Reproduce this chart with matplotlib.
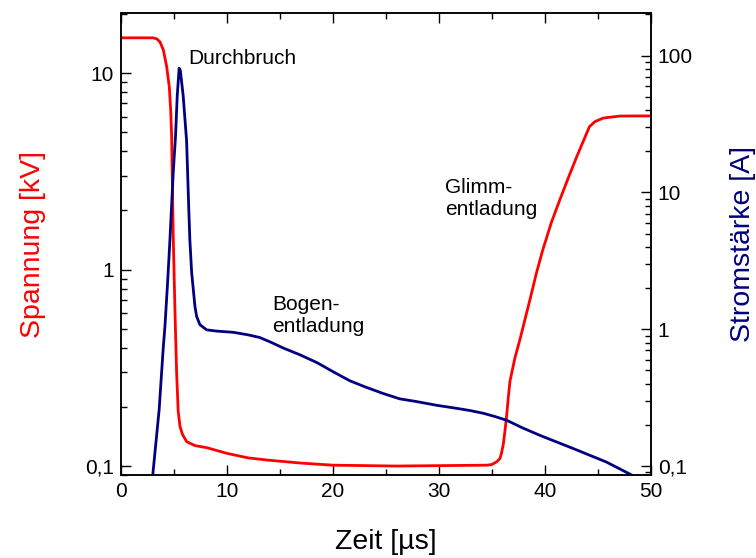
import matplotlib
matplotlib.use('Agg')
import matplotlib.pyplot as plt
from matplotlib.ticker import FixedLocator, FuncFormatter, LogLocator, NullFormatter, MultipleLocator

plt.rcParams['font.family'] = ['Liberation Sans', 'DejaVu Sans']

# Spannung (kV)
t_u = [0, 3.05, 3.4, 3.68, 4.0, 4.31, 4.56, 4.69, 4.78, 4.93, 5.1, 5.25,
       5.4, 5.57, 5.8, 6.2, 7.0, 8.1, 10.0, 12.0, 14.0, 17.0, 20.0,
       26.0, 34.5, 34.97, 35.44, 35.75, 35.9, 36.07, 36.23, 36.4, 36.55, 36.7,
       37.17, 37.64, 38.58, 39.2, 39.8, 40.6, 41.4, 42.2, 43.0, 43.8, 44.2,
       44.7, 45.5, 47.1, 50.0]
u_kv = [15.1, 15.1, 14.9, 14.4, 13.1, 10.8, 8.5, 6.5, 4.8, 1.5, 0.6, 0.3,
        0.19, 0.159, 0.145, 0.133, 0.127, 0.124, 0.116, 0.11, 0.107, 0.1035, 0.101,
        0.1, 0.101, 0.1017, 0.105, 0.109, 0.116, 0.129, 0.151, 0.183, 0.225, 0.27,
        0.355, 0.44, 0.70, 0.96, 1.26, 1.73, 2.26, 2.92, 3.75, 4.74, 5.33,
        5.65, 5.9, 6.04, 6.05]

# Stromstaerke (A)
t_i = [3.0, 3.6, 4.0, 4.15, 4.4, 4.62, 4.93, 5.15, 5.31, 5.49, 5.6, 5.87,
       6.19, 6.29, 6.39, 6.5, 6.67, 6.98, 7.14, 7.45, 8.08, 9.0, 10.6, 12.0,
       13.1, 14.2, 15.3, 16.9, 18.5, 20.0, 21.6, 23.0, 24.7, 26.3, 27.9,
       29.8, 31.7, 33.0, 34.2, 35.3, 36.4, 37.9, 39.5, 42.6, 45.8, 48.0, 48.3]
i_a = [0.086, 0.257, 0.75, 1.05, 2.2, 4.5, 13.9, 26, 51, 81, 78, 51,
       24, 13.9, 7.9, 4.5, 2.6, 1.47, 1.24, 1.08, 0.99, 0.97, 0.95, 0.91,
       0.87, 0.80, 0.73, 0.65, 0.57, 0.49, 0.42, 0.38, 0.34, 0.31, 0.296,
       0.278, 0.264, 0.254, 0.243, 0.23, 0.216, 0.19, 0.168, 0.135, 0.107, 0.0875, 0.085]

u_ticks = [0.1, 1, 10]
i_ticks = [0.1, 1, 10, 100]
x_ticks = [0, 10, 20, 30, 40, 50]

red = '#ff0000'
navy = '#000080'


def de_fmt(v, pos):
    return '0,1' if v < 1 else f'{v:g}'


fig = plt.figure(figsize=(7.56, 5.58), dpi=100)
ax = fig.add_axes([0.16, 0.1487, 0.701, 0.828])
ax2 = ax.twinx()

ax.plot(t_u, u_kv, color=red, lw=2.0, solid_joinstyle='round')
ax2.plot(t_i, i_a, color=navy, lw=2.0, solid_joinstyle='round')

ax.set_xlim(0, 50)
ax.set_yscale('log')
ax.set_ylim(0.09, 20.2)
ax2.set_yscale('log')
ax2.set_ylim(0.086, 205)

ax.xaxis.set_major_locator(FixedLocator(x_ticks))
ax.xaxis.set_minor_locator(MultipleLocator(5))
for a, ticks in ((ax, u_ticks), (ax2, i_ticks)):
    a.yaxis.set_major_locator(FixedLocator(ticks))
    a.yaxis.set_major_formatter(FuncFormatter(de_fmt))
    a.yaxis.set_minor_locator(LogLocator(base=10, subs=range(2, 10)))
    a.yaxis.set_minor_formatter(NullFormatter())
    a.tick_params(which='major', direction='in', length=7, width=1.0, labelsize=15, pad=5)
    a.tick_params(which='minor', direction='in', length=4.5, width=1.0)
    for s in a.spines.values():
        s.set_linewidth(1.1)

ax.tick_params(axis='x', which='both', top=True)
ax.tick_params(axis='y', which='both', right=False)

ax.set_xlabel('Zeit [µs]', fontsize=20.5, labelpad=20)
ax.set_ylabel('Spannung [kV]', fontsize=20.5, color=red, labelpad=28)
ax2.set_ylabel('Stromstärke [A]', fontsize=20.5, color=navy, labelpad=27)

ax.annotate('Durchbruch', xy=(6.32, 11.8), fontsize=15, va='center', ha='left')
ax.annotate('Bogen-\nentladung', xy=(14.25, 0.583), fontsize=15, va='center', ha='left',
            linespacing=1.15)
ax.annotate('Glimm-\nentladung', xy=(30.57, 2.3), fontsize=15, va='center', ha='left',
            linespacing=1.15)

fig.savefig('out.png', dpi=100)
